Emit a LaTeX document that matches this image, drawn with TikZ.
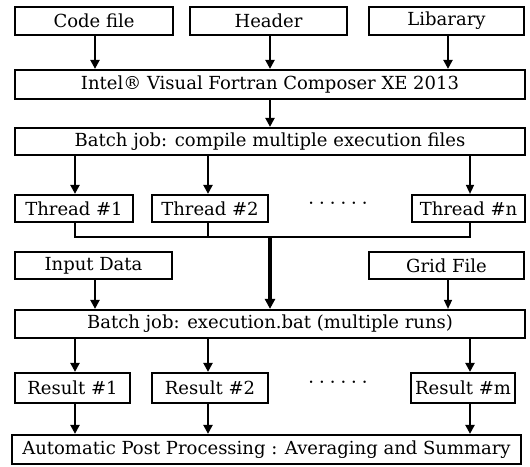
\documentclass[tikz,border=0pt]{standalone}
\usepackage{fontspec}
\setmainfont{DejaVu Serif}
\usetikzlibrary{arrows.meta}
\begin{document}
\begin{tikzpicture}[x=1pt,y=-1pt,
  box/.style={draw=black,line width=2.2pt,inner sep=0pt,minimum height=28pt,
    font=\fontsize{18}{21}\selectfont,fill=white},
  flow/.style={line width=2.2pt,-{Triangle[length=9pt,width=9pt]}},
  thinflow/.style={line width=1.5pt,-{Triangle[length=9pt,width=8pt]}},
  mainflow/.style={line width=3.4pt,-{Triangle[length=10pt,width=10pt]}},
  joinline/.style={line width=2pt},
  dots/.style={font=\fontsize{18}{21}\selectfont}]
  \useasboundingbox (0,0) rectangle (530,466);

  % inputs
  \node[box,minimum width=158pt] (code) at (94,21) {Code file};
  \node[box,minimum width=157pt] (header) at (268.5,21) {Header};
  \node[box,minimum width=155pt] (lib) at (446.5,21) {Libarary};

  % compiler
  \node[box,minimum width=510pt,minimum height=29pt] (intel) at (270,84.5) {Intel® Visual Fortran Composer XE 2013};
  \node[box,minimum width=510pt,minimum height=27pt] (compile) at (270,141.5) {Batch job: compile multiple execution files};

  % threads
  \node[box,minimum width=118pt,minimum height=27pt] (t1) at (74,208.5) {Thread \#1};
  \node[box,minimum width=116pt,minimum height=27pt] (t2) at (210,208.5) {Thread \#2};
  \node[box,minimum width=113pt,minimum height=27pt] (tn) at (468.5,208.5) {Thread \#n};
  \node[dots] (tdots) at (338,206) {·\;·\;·\;·\;·\;·};

  % run inputs
  \node[box,minimum width=157pt,minimum height=27pt] (input) at (93.5,265.5) {Input Data};
  \node[box,minimum width=155pt,minimum height=27pt] (grid) at (446.5,265.5) {Grid File};

  \node[box,minimum width=510pt] (exec) at (270,324) {Batch job: execution.bat (multiple runs)};

  % results
  \node[box,minimum width=115pt,minimum height=30pt] (r1) at (72.5,388) {Result \#1};
  \node[box,minimum width=116pt,minimum height=30pt] (r2) at (210,388) {Result \#2};
  \node[box,minimum width=104pt,minimum height=30pt] (rm) at (463,388) {Result \#m};
  \node[dots] (rdots) at (338,385) {·\;·\;·\;·\;·\;·};

  \node[box,minimum width=509pt,minimum height=29pt] (post) at (266.5,449.5) {Automatic Post Processing : Averaging and Summary};

  % connectors
  \coordinate (c1) at (95,0);
  \coordinate (c2) at (270,0);
  \coordinate (c3) at (448,0);
  \coordinate (c4) at (75,0);
  \coordinate (c5) at (208,0);
  \coordinate (c6) at (470,0);
  \coordinate (merge) at (270,237);

  \draw[flow] (code.south -| c1) -- (intel.north -| c1);
  \draw[flow] (header.south -| c2) -- (intel.north -| c2);
  \draw[flow] (lib.south -| c3) -- (intel.north -| c3);
  \draw[flow] (intel.south -| c2) -- (compile.north -| c2);

  \draw[flow] (compile.south -| c4) -- (t1.north -| c4);
  \draw[flow] (compile.south -| c5) -- (t2.north -| c5);
  \draw[thinflow] (compile.south -| c6) -- (tn.north -| c6);

  \draw[joinline] (t1.south -| c4) |- (merge -| c6) -- (tn.south -| c6);
  \draw[joinline] (t2.south -| c5) -- (merge -| c5);
  \draw[mainflow] (merge) -- (exec.north -| merge);

  \draw[flow] (input.south -| c1) -- (exec.north -| c1);
  \draw[thinflow] (grid.south -| c3) -- (exec.north -| c3);

  \draw[flow] (exec.south -| c4) -- (r1.north -| c4);
  \draw[flow] (exec.south -| c5) -- (r2.north -| c5);
  \draw[flow] (exec.south -| c6) -- (rm.north -| c6);

  \draw[flow] (r1.south -| c4) -- (post.north -| c4);
  \draw[flow] (r2.south -| c5) -- (post.north -| c5);
  \draw[flow] (rm.south -| c6) -- (post.north -| c6);
\end{tikzpicture}
\end{document}
